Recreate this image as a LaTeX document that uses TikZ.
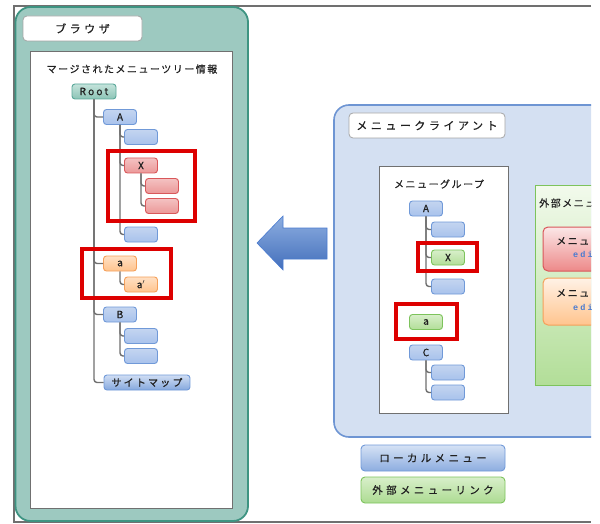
\documentclass[tikz,border=0pt]{standalone}
\usepackage{fontspec}
\setmainfont{Noto Sans CJK JP}
\newfontfamily\jpa{Noto Sans CJK JP}[LetterSpace=15, FakeBold=0.5]
\newfontfamily\jpn{Noto Sans CJK JP}[LetterSpace=22, FakeBold=0.8]
\newfontfamily\jpb{Noto Sans CJK JP}[LetterSpace=32, FakeBold=0.6]
\newfontfamily\monof{Liberation Mono}[LetterSpace=25]
\definecolor{frameg}{HTML}{707070}
\definecolor{tealfill}{HTML}{9DC9C0}
\definecolor{tealdraw}{HTML}{3E9482}
\definecolor{clientfill}{HTML}{D4E0F2}
\definecolor{clientdraw}{HTML}{6E95D3}
\definecolor{nbdraw}{HTML}{7099D8}
\definecolor{nbtop}{HTML}{C4D5F0}
\definecolor{nbmid}{HTML}{EDF2FB}
\definecolor{nbbot}{HTML}{A8C2EC}
\definecolor{nrdraw}{HTML}{D9575A}
\definecolor{nrtop}{HTML}{F4C2C2}
\definecolor{nrmid}{HTML}{FBE7E7}
\definecolor{nrbot}{HTML}{EB9898}
\definecolor{nodraw}{HTML}{F5A05A}
\definecolor{notop}{HTML}{FFE0C4}
\definecolor{nomid}{HTML}{FFF2E6}
\definecolor{nobot}{HTML}{FFC48E}
\definecolor{ngdraw}{HTML}{7DC35C}
\definecolor{ngtop}{HTML}{D8EFCA}
\definecolor{ngmid}{HTML}{F2FAEC}
\definecolor{ngbot}{HTML}{B2DE98}
\definecolor{nttop}{HTML}{C4E3DB}
\definecolor{ntbot}{HTML}{8CC4B6}
\definecolor{ntdraw}{HTML}{5BA89A}
\definecolor{redbox}{HTML}{DD0000}
\definecolor{linkblue}{HTML}{4A7BD0}
\definecolor{txt}{HTML}{202020}
\tikzset{
  tnode/.style={rounded corners=3pt, minimum width=33pt, minimum height=15pt, inner sep=0pt, line width=0.9pt, text=txt, font=\jpn\fontsize{10}{10}\selectfont},
  bluen/.style={tnode, draw=nbdraw, top color=nbtop, middle color=nbmid, bottom color=nbbot},
  redn/.style={tnode, draw=nrdraw, top color=nrtop, middle color=nrmid, bottom color=nrbot},
  orangen/.style={tnode, draw=nodraw, top color=notop, middle color=nomid, bottom color=nobot},
  greenn/.style={tnode, draw=ngdraw, top color=ngtop, middle color=ngmid, bottom color=ngbot},
  tealn/.style={tnode, draw=ntdraw, top color=nttop, bottom color=ntbot},
  conn/.style={draw=frameg, line width=1.4pt, rounded corners=3pt},
  hilite/.style={draw=redbox, line width=3.5pt},
  titlebox/.style={draw=black!35, fill=white, rounded corners=4pt, line width=0.8pt, inner sep=0pt, text=txt, font=\jpb\fontsize{11}{12}\selectfont},
  panelhead/.style={font=\jpa\fontsize{10}{11}\selectfont, text=txt, inner sep=0pt},
  legend/.style={rounded corners=4pt, line width=0.9pt, minimum width=144pt, minimum height=26pt, inner sep=0pt, text=txt, font=\jpb\fontsize{10.5}{11}\selectfont},
  linktext/.style={anchor=west, inner sep=0pt, text=linkblue, font=\monof\bfseries\fontsize{8.5}{9}\selectfont},
}
\begin{document}
\begin{tikzpicture}[x=1pt,y=-1pt]
\useasboundingbox (0,0) rectangle (600,524);
% outer frame
\draw[frameg, line width=1.2pt] (591,6) -- (14,6) -- (14,522) -- (591,522);
\begin{scope}
\clip (0,0) rectangle (591,524);
% browser panel
\draw[fill=tealfill, draw=tealdraw, line width=1.8pt, rounded corners=15pt] (15.5,7) rectangle (248,521);
\node[titlebox, minimum width=119pt, minimum height=25pt] (brtitle) at (82.5,28.5) {ブラウザ};
\draw[fill=white, draw=frameg, line width=1pt] (30,52) rectangle (232,508);
\node[panelhead] (mergetitle) at (132,69) {マージされたメニューツリー情報};
% client panel
\draw[fill=clientfill, draw=clientdraw, line width=1.6pt, rounded corners=15pt] (334,105) rectangle (660,437);
\node[titlebox, minimum width=156pt, minimum height=25pt] (cltitle) at (427,125.5) {メニュークライアント};
\draw[fill=white, draw=frameg, line width=1pt] (379,167) rectangle (508,413);
\node[panelhead] (grptitle) at (439,184) {メニューグループ};
% external link group
\draw[draw=ngdraw, line width=1pt, top color=ngmid, bottom color=ngbot] (535,186) rectangle (640,385);
\node[panelhead, anchor=west] (exttitle) at (539,203) {外部メニュー};
\draw[draw=nrdraw, line width=1pt, rounded corners=5pt, top color=nrmid, bottom color=nrbot!90!red] (543,227) rectangle (640,271);
\node[panelhead, anchor=west] (ln1) at (556,241) {メニュー};
\node[linktext] (le1) at (573,254.5) {edit};
\draw[draw=nodraw, line width=1pt, rounded corners=5pt, top color=nomid, bottom color=nobot] (543,278) rectangle (640,325);
\node[panelhead, anchor=west] (ln2) at (556,293) {メニュー};
\node[linktext] (le2) at (573,307) {edit};
\end{scope}
% arrow
\draw[draw=linkblue, line width=0.6pt, top color=nbdraw!80!white, bottom color=linkblue!90!black] (257,243) -- (283,216) -- (283,228) -- (327,228) -- (327,259) -- (283,259) -- (283,270) -- cycle;
% left tree nodes
\node[tealn, minimum width=44pt] (root) at (94,91.5) {Root};
\node[bluen] (A) at (120,117) {A};
\node[bluen] (a1) at (141,137) {};
\node[redn] (X) at (141,165.5) {X};
\node[redn] (x1) at (162,186) {};
\node[redn] (x2) at (162,206) {};
\node[bluen] (a2) at (141,234.5) {};
\node[orangen] (la) at (120,263.5) {a};
\node[orangen] (lap) at (141,284.5) {a$'$};
\node[bluen] (B) at (120,314.5) {B};
\node[bluen] (b1) at (141,336) {};
\node[bluen] (b2) at (141,356) {};
\node[bluen, minimum width=86pt, top color=nbtop!80!white, bottom color=nbdraw!85!white] (site) at (147,382.5) {サイトマップ};
% left connectors
\path[conn] (root.south) |- (A.west);
\path[conn] (root.south) |- (la.west);
\path[conn] (root.south) |- (B.west);
\path[conn] (root.south) |- (site.west);
\path[conn] (A.south) |- (a1.west);
\path[conn] (A.south) |- (X.west);
\path[conn] (A.south) |- (a2.west);
\path[conn] (X.south) |- (x1.west);
\path[conn] (X.south) |- (x2.west);
\path[conn] (la.south) |- (lap.west);
\path[conn] (B.south) |- (b1.west);
\path[conn] (B.south) |- (b2.west);
% right tree nodes
\node[bluen] (RA) at (426,208.5) {A};
\node[bluen] (r1) at (448,229.5) {};
\node[greenn] (RX) at (448,257.5) {X};
\node[bluen] (r2) at (448,286.5) {};
\node[greenn] (Ra) at (426,322) {a};
\node[bluen] (RC) at (426,352.5) {C};
\node[bluen] (c1) at (448,372.5) {};
\node[bluen] (c2) at (448,392.5) {};
\path[conn] (RA.south) |- (r1.west);
\path[conn] (RA.south) |- (RX.west);
\path[conn] (RA.south) |- (r2.west);
\path[conn] (RC.south) |- (c1.west);
\path[conn] (RC.south) |- (c2.west);
% highlight boxes
\draw[hilite] (108,151) rectangle (195,221);
\draw[hilite] (82,249) rectangle (171,298);
\draw[hilite] (418,243) rectangle (477,271);
\draw[hilite] (396,304) rectangle (457,339);
% legend
\node[legend, draw=nbdraw, top color=nbtop!70!white, bottom color=nbdraw!80!white] (lg1) at (433,458) {ローカルメニュー};
\node[legend, draw=ngdraw, top color=ngtop, middle color=ngmid, bottom color=ngbot!90!ngdraw] (lg2) at (433,490) {外部メニューリンク};
\end{tikzpicture}
\end{document}
